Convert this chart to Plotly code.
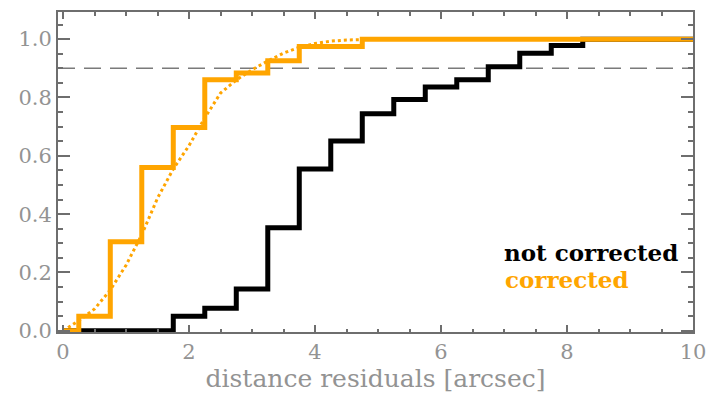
import plotly.graph_objects as go

# ---- data ----
not_corr_x = [0, 1.75, 2.25, 2.75, 3.25, 3.75, 4.25, 4.75, 5.25, 5.75, 6.25, 6.75, 7.25, 7.75, 8.25, 10]
not_corr_y = [0, 0.05, 0.077, 0.143, 0.353, 0.555, 0.651, 0.744, 0.793, 0.836, 0.861, 0.905, 0.952, 0.978, 1.0, 1.0]

corr_x = [0, 0.25, 0.75, 1.25, 1.75, 2.25, 2.75, 3.25, 3.75, 4.75, 10]
corr_y = [0, 0.05, 0.305, 0.56, 0.697, 0.861, 0.884, 0.926, 0.975, 1.0, 1.0]

model_x = [0, 0.25, 0.5, 0.75, 1.0, 1.25, 1.5, 1.75, 2.0, 2.25, 2.5, 2.75, 3.0, 3.25, 3.5, 3.75, 4.0, 4.25, 4.5, 5.0, 10]
model_y = [0.0, 0.035, 0.075, 0.14, 0.225, 0.33, 0.455, 0.555, 0.635, 0.73, 0.815, 0.86, 0.895, 0.925, 0.952, 0.972, 0.985, 0.993, 0.997, 1.0, 1.0]

threshold = 0.9
x_ticks = [0, 2, 4, 6, 8, 10]
y_ticks = [0.0, 0.2, 0.4, 0.6, 0.8, 1.0]
y_tick_labels = ["0.0", "0.2", "0.4", "0.6", "0.8", "1.0"]

ORANGE = "#FFA500"
GRAY = "#939393"
AXIS = "#6e6e6e"
FONT = "DejaVu Serif"

fig = go.Figure()
fig.add_trace(go.Scatter(x=model_x, y=model_y, mode="lines",
                         line=dict(color=ORANGE, width=3, dash="3px,3px"),
                         showlegend=False, hoverinfo="skip"))
fig.add_trace(go.Scatter(x=not_corr_x, y=not_corr_y, mode="lines", line_shape="hv",
                         line=dict(color="black", width=5), showlegend=False))
fig.add_trace(go.Scatter(x=corr_x, y=corr_y, mode="lines", line_shape="hv",
                         line=dict(color=ORANGE, width=5), showlegend=False))

fig.add_shape(type="line", xref="paper", yref="y", x0=0, x1=1, y0=threshold, y1=threshold,
              line=dict(color="#7a7a7a", width=1.5, dash="17px,9px"), layer="below")

fig.add_annotation(text="<b>not corrected</b>", xref="paper", yref="paper",
                   x=0.979, y=0.247, xanchor="right", yanchor="middle", showarrow=False,
                   font=dict(family=FONT, size=23, color="black"))
fig.add_annotation(text="<b>corrected</b>", xref="paper", yref="paper",
                   x=0.70, y=0.163, xanchor="left", yanchor="middle", showarrow=False,
                   font=dict(family=FONT, size=23, color=ORANGE))

axis_common = dict(showgrid=False, zeroline=False, showline=True, linecolor=AXIS, linewidth=2,
                   mirror="ticks", ticks="inside", tickcolor=AXIS, tickwidth=1.5,
                   automargin=False,
                   tickfont=dict(family=FONT, size=21, color=GRAY))

fig.update_xaxes(range=[-0.08, 10], tickvals=x_ticks, ticklen=7,
                 minor=dict(dtick=0.5, ticklen=3.5, ticks="inside", tickcolor=AXIS, tickwidth=1.5),
                 title=dict(text="distance residuals [arcsec]", standoff=4,
                            font=dict(family=FONT, size=25, color=GRAY)),
                 **axis_common)
fig.update_yaxes(range=[-0.004, 1.093], tickvals=y_ticks, ticktext=y_tick_labels, ticklen=12,
                 minor=dict(dtick=0.05, ticklen=5, ticks="inside", tickcolor=AXIS, tickwidth=1.5),
                 **axis_common)

fig.update_layout(width=708, height=400, margin=dict(l=58, r=15, t=12, b=68),
                  plot_bgcolor="white", paper_bgcolor="white")

# remove the page's default body margin so the 708x400 figure fills the window exactly
fig.write_html("out.html", config={"displayModeBar": False},
               post_script="document.body.style.margin='0';document.body.style.overflow='hidden';")
